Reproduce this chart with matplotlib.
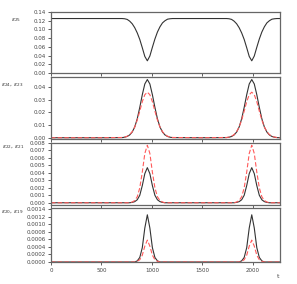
import matplotlib
matplotlib.use("Agg")
import matplotlib.pyplot as plt

# time grid
t = [0, 500,
     705, 730, 755, 780, 805, 830, 855, 880, 905, 930, 955,
     980, 1005, 1030, 1055, 1080, 1105, 1130, 1155, 1180, 1205,
     1500,
     1740, 1765, 1790, 1815, 1840, 1865, 1890, 1915, 1940, 1965, 1990,
     2015, 2040, 2065, 2090, 2115, 2140, 2165, 2190, 2215, 2240,
     2270]

e25 = [0.125, 0.125,
       0.125, 0.1245, 0.123, 0.119, 0.113, 0.104, 0.092, 0.077, 0.058, 0.038, 0.028,
       0.039, 0.059, 0.078, 0.094, 0.106, 0.115, 0.120, 0.1235, 0.1245, 0.125,
       0.125,
       0.125, 0.1245, 0.123, 0.119, 0.113, 0.104, 0.092, 0.077, 0.058, 0.038, 0.028,
       0.039, 0.059, 0.078, 0.094, 0.106, 0.115, 0.120, 0.1235, 0.1245, 0.125,
       0.125]

e24 = [0.0, 0.0,
       0.0001, 0.0004, 0.001, 0.0022, 0.0045, 0.0085, 0.015, 0.024, 0.034, 0.0425, 0.046,
       0.0425, 0.034, 0.024, 0.015, 0.0085, 0.0045, 0.0022, 0.001, 0.0004, 0.0001,
       0.0,
       0.0001, 0.0004, 0.001, 0.0022, 0.0045, 0.0085, 0.015, 0.024, 0.034, 0.0425, 0.046,
       0.0425, 0.034, 0.024, 0.015, 0.0085, 0.0045, 0.0022, 0.001, 0.0004, 0.0001,
       0.0]
e23 = [0.0, 0.0,
       0.0002, 0.0005, 0.0012, 0.0025, 0.0048, 0.0085, 0.014, 0.021, 0.0285, 0.034, 0.036,
       0.034, 0.0285, 0.021, 0.014, 0.0085, 0.0048, 0.0025, 0.0012, 0.0005, 0.0002,
       0.0,
       0.0002, 0.0005, 0.0012, 0.0025, 0.0048, 0.0085, 0.014, 0.021, 0.0285, 0.034, 0.036,
       0.034, 0.0285, 0.021, 0.014, 0.0085, 0.0048, 0.0025, 0.0012, 0.0005, 0.0002,
       0.0]

e22 = [0.0, 0.0,
       0.0, 0.0, 0.0, 0.0, 0.00005, 0.00015, 0.0004, 0.0010, 0.0023, 0.0039, 0.0047,
       0.0039, 0.0023, 0.0010, 0.0004, 0.00015, 0.00005, 0.0, 0.0, 0.0, 0.0,
       0.0,
       0.0, 0.0, 0.0, 0.0, 0.00005, 0.00015, 0.0004, 0.0010, 0.0023, 0.0039, 0.0047,
       0.0039, 0.0023, 0.0010, 0.0004, 0.00015, 0.00005, 0.0, 0.0, 0.0, 0.0,
       0.0]
e21 = [0.0, 0.0,
       0.0, 0.0, 0.0, 0.0, 0.0001, 0.0003, 0.0008, 0.0020, 0.0041, 0.0066, 0.0077,
       0.0066, 0.0041, 0.0020, 0.0008, 0.0003, 0.0001, 0.0, 0.0, 0.0, 0.0,
       0.0,
       0.0, 0.0, 0.0, 0.0, 0.0001, 0.0003, 0.0008, 0.0020, 0.0041, 0.0066, 0.0077,
       0.0066, 0.0041, 0.0020, 0.0008, 0.0003, 0.0001, 0.0, 0.0, 0.0, 0.0,
       0.0]

e20 = [0.0, 0.0,
       0.0, 0.0, 0.0, 0.0, 0.0, 0.0, 0.00003, 0.00012, 0.00038, 0.0009, 0.00125,
       0.0009, 0.00038, 0.00012, 0.00003, 0.0, 0.0, 0.0, 0.0, 0.0, 0.0,
       0.0,
       0.0, 0.0, 0.0, 0.0, 0.0, 0.0, 0.00003, 0.00012, 0.00038, 0.0009, 0.00125,
       0.0009, 0.00038, 0.00012, 0.00003, 0.0, 0.0, 0.0, 0.0, 0.0, 0.0,
       0.0]
e19 = [0.0, 0.0,
       0.0, 0.0, 0.0, 0.0, 0.0, 0.0, 0.00002, 0.00006, 0.00018, 0.00042, 0.00058,
       0.00042, 0.00018, 0.00006, 0.00002, 0.0, 0.0, 0.0, 0.0, 0.0, 0.0,
       0.0,
       0.0, 0.0, 0.0, 0.0, 0.0, 0.0, 0.00002, 0.00006, 0.00018, 0.00042, 0.00058,
       0.00042, 0.00018, 0.00006, 0.00002, 0.0, 0.0, 0.0, 0.0, 0.0, 0.0,
       0.0]

xticks = [0, 500, 1000, 1500, 2000]
labels = [r'$\varepsilon_{25}$', r'$\varepsilon_{24}$, $\varepsilon_{23}$',
          r'$\varepsilon_{22}$, $\varepsilon_{21}$', r'$\varepsilon_{20}$, $\varepsilon_{19}$']

W, H = 297, 284
fig = plt.figure(figsize=(W / 100, H / 100), dpi=100)

# panel boxes in pixels: top, bottom
boxes = [(12, 73), (77, 139), (143, 205), (208, 262)]
left, right = 51, 280
ylims = [(0.001, 0.14), (-0.001, 0.048), (-0.0003, 0.0080), (0.0, 0.00143)]
yticks = [[0.00, 0.02, 0.04, 0.06, 0.08, 0.10, 0.12, 0.14],
          [0.00, 0.01, 0.02, 0.03, 0.04],
          [0.000, 0.001, 0.002, 0.003, 0.004, 0.005, 0.006, 0.007, 0.008],
          [0.0000, 0.0002, 0.0004, 0.0006, 0.0008, 0.0010, 0.0012, 0.0014]]
fmts = ['%.2f', '%.2f', '%.3f', '%.4f']
black_series = [e25, e24, e22, e20]
red_series = [None, e23, e21, e19]
# label anchor (x px, y px)
label_pos = [(11, 20), (1, 85), (2, 147), (1, 212)]

dark = '#333333'
red = '#ff5a5a'
spine_col = '#666666'

for i in range(4):
    top, bot = boxes[i]
    ax = fig.add_axes([left / W, 1 - bot / H, (right - left) / W, (bot - top) / H])
    ax.plot(t, black_series[i], color=dark, lw=0.8)
    if red_series[i] is not None:
        ax.plot(t, red_series[i], color=red, lw=0.8, dashes=(4, 2))
    ax.set_xlim(0, 2270)
    ax.set_ylim(*ylims[i])
    ax.set_xticks(xticks)
    ax.set_yticks(yticks[i])
    ax.set_yticklabels([fmts[i] % v for v in yticks[i]])
    if i < 3:
        ax.set_xticklabels([])
    ax.tick_params(direction='out', length=2.5, width=0.6, labelsize=4.0,
                   colors='#444444', pad=1.5)
    for s in ax.spines.values():
        s.set_color(spine_col)
        s.set_linewidth(0.9)
    lx, ly = label_pos[i]
    fig.text(lx / W, 1 - ly / H, labels[i], fontsize=4.2, color='#333333',
             ha='left', va='center')

fig.text(278 / W, 1 - 276 / H, 't', fontsize=4.5, color='#444444', ha='center', va='center')

fig.savefig('out.png', dpi=100)
